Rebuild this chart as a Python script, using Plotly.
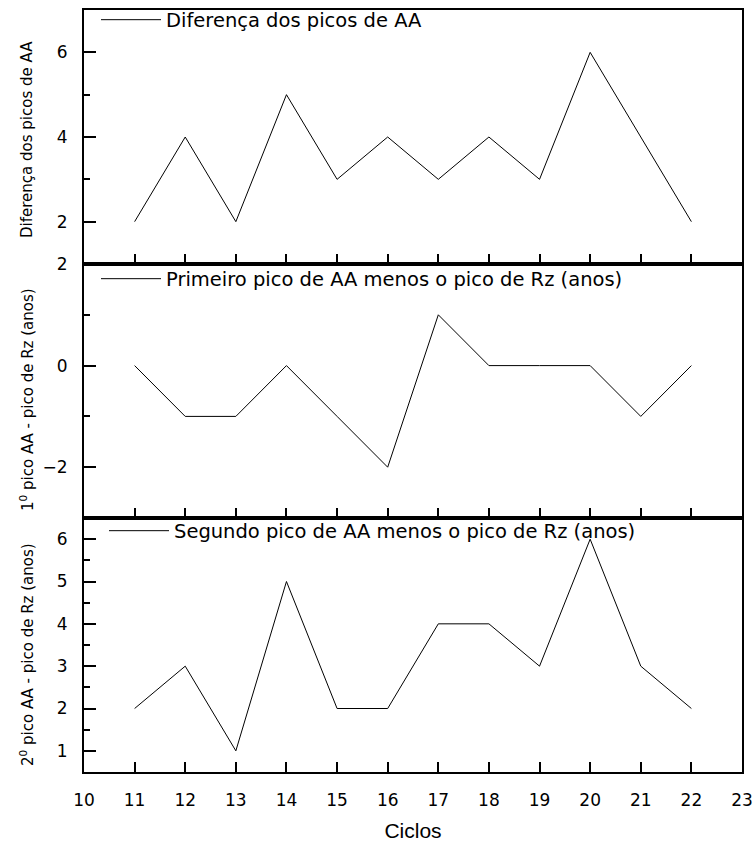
import plotly.graph_objects as go
from plotly.subplots import make_subplots

ciclos = [11, 12, 13, 14, 15, 16, 17, 18, 19, 20, 21, 22]
diferenca = [2, 4, 2, 5, 3, 4, 3, 4, 3, 6, 4, 2]
primeiro = [0, -1, -1, 0, -1, -2, 1, 0, 0, 0, -1, 0]
segundo = [2, 3, 1, 5, 2, 2, 4, 4, 3, 6, 3, 2]

names = ["Diferença dos picos de AA",
         "Primeiro pico de AA menos o pico de Rz (anos)",
         "Segundo pico de AA menos o pico de Rz (anos)"]
ytitles = ["Diferença dos picos de AA",
           "1<sup>0</sup> pico AA - pico de Rz (anos)",
           "2<sup>0</sup> pico AA - pico de Rz (anos)"]

FONT = "DejaVu Sans, Verdana, sans-serif"
FONT2 = "Liberation Sans, Arial, sans-serif"

fig = make_subplots(rows=3, cols=1, vertical_spacing=0)

series = [diferenca, primeiro, segundo]
legends = ["legend", "legend2", "legend3"]
for i, (vals, nm, lg) in enumerate(zip(series, names, legends)):
    fig.add_trace(go.Scatter(x=ciclos, y=vals, mode="lines", name=nm,
                             line=dict(color="black", width=1),
                             legend=lg, showlegend=True), row=i + 1, col=1)

yranges = [[1, 7], [-3, 2], [0.5, 6.5]]
ydticks = [2, 2, 1]

for i in range(3):
    r = i + 1
    fig.update_xaxes(range=[10, 23], tick0=10, dtick=1,
                     showticklabels=(r == 3), ticks="inside", ticklen=10,
                     tickwidth=2, tickcolor="black",
                     showline=True, linewidth=2, linecolor="black", mirror=True,
                     showgrid=False, ticklabelstandoff=12, layer="above traces",
                     row=r, col=1)
    fig.update_yaxes(range=yranges[i], tick0=0, dtick=ydticks[i],
                     ticks="inside", ticklen=12, tickwidth=2, tickcolor="black",
                     minor=dict(ticks="inside", ticklen=6, tickwidth=2,
                                tickcolor="black", dtick=ydticks[i] / 2),
                     showline=True, linewidth=2, linecolor="black",
                     mirror=True, showgrid=False, layer="above traces",
                     ticklabelstandoff=11,
                     row=r, col=1)

fig.update_xaxes(title=dict(text="Ciclos", standoff=14,
                            font=dict(family=FONT2, size=21, color="black")),
                 row=3, col=1)

def py(px):
    return 1 - (px - 10) / 762

def pxx(px):
    return (px - 84) / 658

title_y = [140, 400, 655]
for t, yc in zip(ytitles, title_y):
    fig.add_annotation(text=t, xref="paper", yref="paper", x=pxx(27), y=py(yc),
                       xanchor="center", yanchor="middle", textangle=-90,
                       showarrow=False,
                       font=dict(family=FONT, size=15, color="black"))

leg_common = dict(bgcolor="rgba(0,0,0,0)", borderwidth=0,
                  font=dict(family=FONT, size=19.5, color="black"),
                  xanchor="left", yanchor="middle", itemwidth=60,
                  tracegroupgap=0)

fig.update_layout(
    width=756, height=848,
    margin=dict(l=84, r=14, t=10, b=76, autoexpand=False),
    paper_bgcolor="white", plot_bgcolor="rgba(0,0,0,0)",
    font=dict(family=FONT, size=17, color="black"),
    legend=dict(x=pxx(96), y=py(20), **leg_common),
    legend2=dict(x=pxx(96), y=py(279), **leg_common),
    legend3=dict(x=pxx(104), y=py(531), **leg_common),
)

fig.write_html("out.html")
